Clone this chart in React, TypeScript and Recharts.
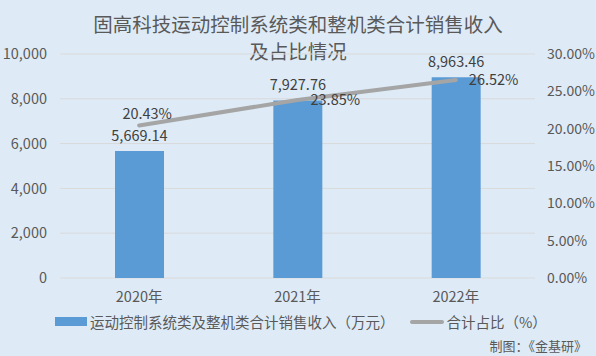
import React from "react";
import {
  ComposedChart,
  Bar,
  Line,
  XAxis,
  YAxis,
  CartesianGrid,
  LabelList,
} from "recharts";

const years = ["2020年", "2021年", "2022年"];
const revenue = [5669.14, 7927.76, 8963.46];
const sharePct = [20.43, 23.85, 26.52];
const leftTicks = [0, 2000, 4000, 6000, 8000, 10000];
const rightTicks = [0, 5, 10, 15, 20, 25, 30];

const BAR_NAME = "运动控制系统类及整机类合计销售收入（万元）";
const LINE_NAME = "合计占比（%）";

const FONT = '"Noto Sans CJK SC", "Noto Sans", sans-serif';
const BG = "#DEEBF7";
const BLUE = "#5B9BD5";
const GREY = "#A5A5A5";
const TICK = "#595959";
const LABEL = "#404040";

const data = years.map((year, i) => ({
  year,
  revenue: revenue[i],
  share: sharePct[i],
}));

const fmtThousands = (v: number) =>
  v.toLocaleString("en-US", { minimumFractionDigits: 0, maximumFractionDigits: 0 });
const fmtMoney = (v: number) =>
  v.toLocaleString("en-US", { minimumFractionDigits: 2, maximumFractionDigits: 2 });
const fmtPct = (v: number) => `${v.toFixed(2)}%`;

// first point label sits above the line, the others to its right
function ShareLabel(props: any) {
  const { x, y, value, index } = props;
  if (x == null || y == null) return null;
  const above = index === 0;
  return (
    <text
      x={above ? x + 8 : x + 13}
      y={above ? y - 10 : y + 1}
      textAnchor={above ? "middle" : "start"}
      dominantBaseline="middle"
      fontSize={14.5}
      fill={LABEL}
      fontFamily={FONT}
    >
      {fmtPct(value)}
    </text>
  );
}

function ChartLegend() {
  return (
    <div
      style={{
        position: "absolute",
        top: 311,
        left: 55,
        display: "flex",
        alignItems: "center",
        fontSize: 14.5,
        color: TICK,
        fontFamily: FONT,
      }}
    >
      <span style={{ width: 32, height: 9, background: BLUE, marginRight: 3 }} />
      <span>{BAR_NAME}</span>
      <span
        style={{
          width: 34,
          height: 4,
          borderRadius: 2,
          background: GREY,
          marginLeft: 15,
          marginRight: 3,
        }}
      />
      <span>{LINE_NAME}</span>
    </div>
  );
}

export default function App() {
  return (
    <div style={{ position: "relative", width: 596, height: 356, background: BG }}>
      <style>{`body{margin:0}`}</style>
      <div
        style={{
          position: "absolute",
          top: 10,
          left: 0,
          width: 596,
          textAlign: "center",
          fontSize: 19.5,
          lineHeight: "27px",
          color: TICK,
          fontFamily: FONT,
        }}
      >
        固高科技运动控制系统类和整机类合计销售收入
        <br />
        及占比情况
      </div>

      <ComposedChart
        width={596}
        height={356}
        data={data}
        margin={{ top: 54, right: 0, bottom: 48, left: 0 }}
        barCategoryGap="34.5%"
        style={{ fontFamily: FONT }}
      >
        <CartesianGrid yAxisId="left" vertical={false} stroke="#D9D9D9" />
        <XAxis
          dataKey="year"
          height={30}
          axisLine={false}
          tickLine={false}
          tickSize={0}
          tickMargin={14}
          tick={{ fontSize: 14.5, fill: TICK }}
        />
        <YAxis
          yAxisId="left"
          width={60}
          domain={[0, 10000]}
          ticks={leftTicks}
          tickFormatter={fmtThousands}
          axisLine={false}
          tickLine={false}
          tickSize={0}
          tickMargin={13}
          tick={{ fontSize: 14.5, fill: TICK }}
        />
        <YAxis
          yAxisId="right"
          orientation="right"
          width={61}
          domain={[0, 30]}
          ticks={rightTicks}
          tickFormatter={fmtPct}
          axisLine={false}
          tickLine={false}
          tickSize={0}
          tickMargin={12}
          tick={{ fontSize: 14, fill: TICK, textAnchor: "start" }}
        />
        <Bar
          yAxisId="left"
          dataKey="revenue"
          name={BAR_NAME}
          fill={BLUE}
          barSize={49}
          isAnimationActive={false}
        >
          <LabelList
            dataKey="revenue"
            position="top"
            offset={10}
            formatter={(v: any) => fmtMoney(Number(v))}
            style={{ fontSize: 14.5, fill: LABEL }}
          />
        </Bar>
        <Line
          yAxisId="right"
          dataKey="share"
          name={LINE_NAME}
          stroke={GREY}
          strokeWidth={4}
          strokeLinecap="round"
          dot={false}
          activeDot={false}
          isAnimationActive={false}
        >
          <LabelList dataKey="share" content={<ShareLabel />} />
        </Line>
      </ComposedChart>

      <ChartLegend />

      <div
        style={{
          position: "absolute",
          right: 9,
          top: 336,
          fontSize: 13,
          color: TICK,
          fontFamily: FONT,
        }}
      >
        制图：《金基研》
      </div>
    </div>
  );
}
